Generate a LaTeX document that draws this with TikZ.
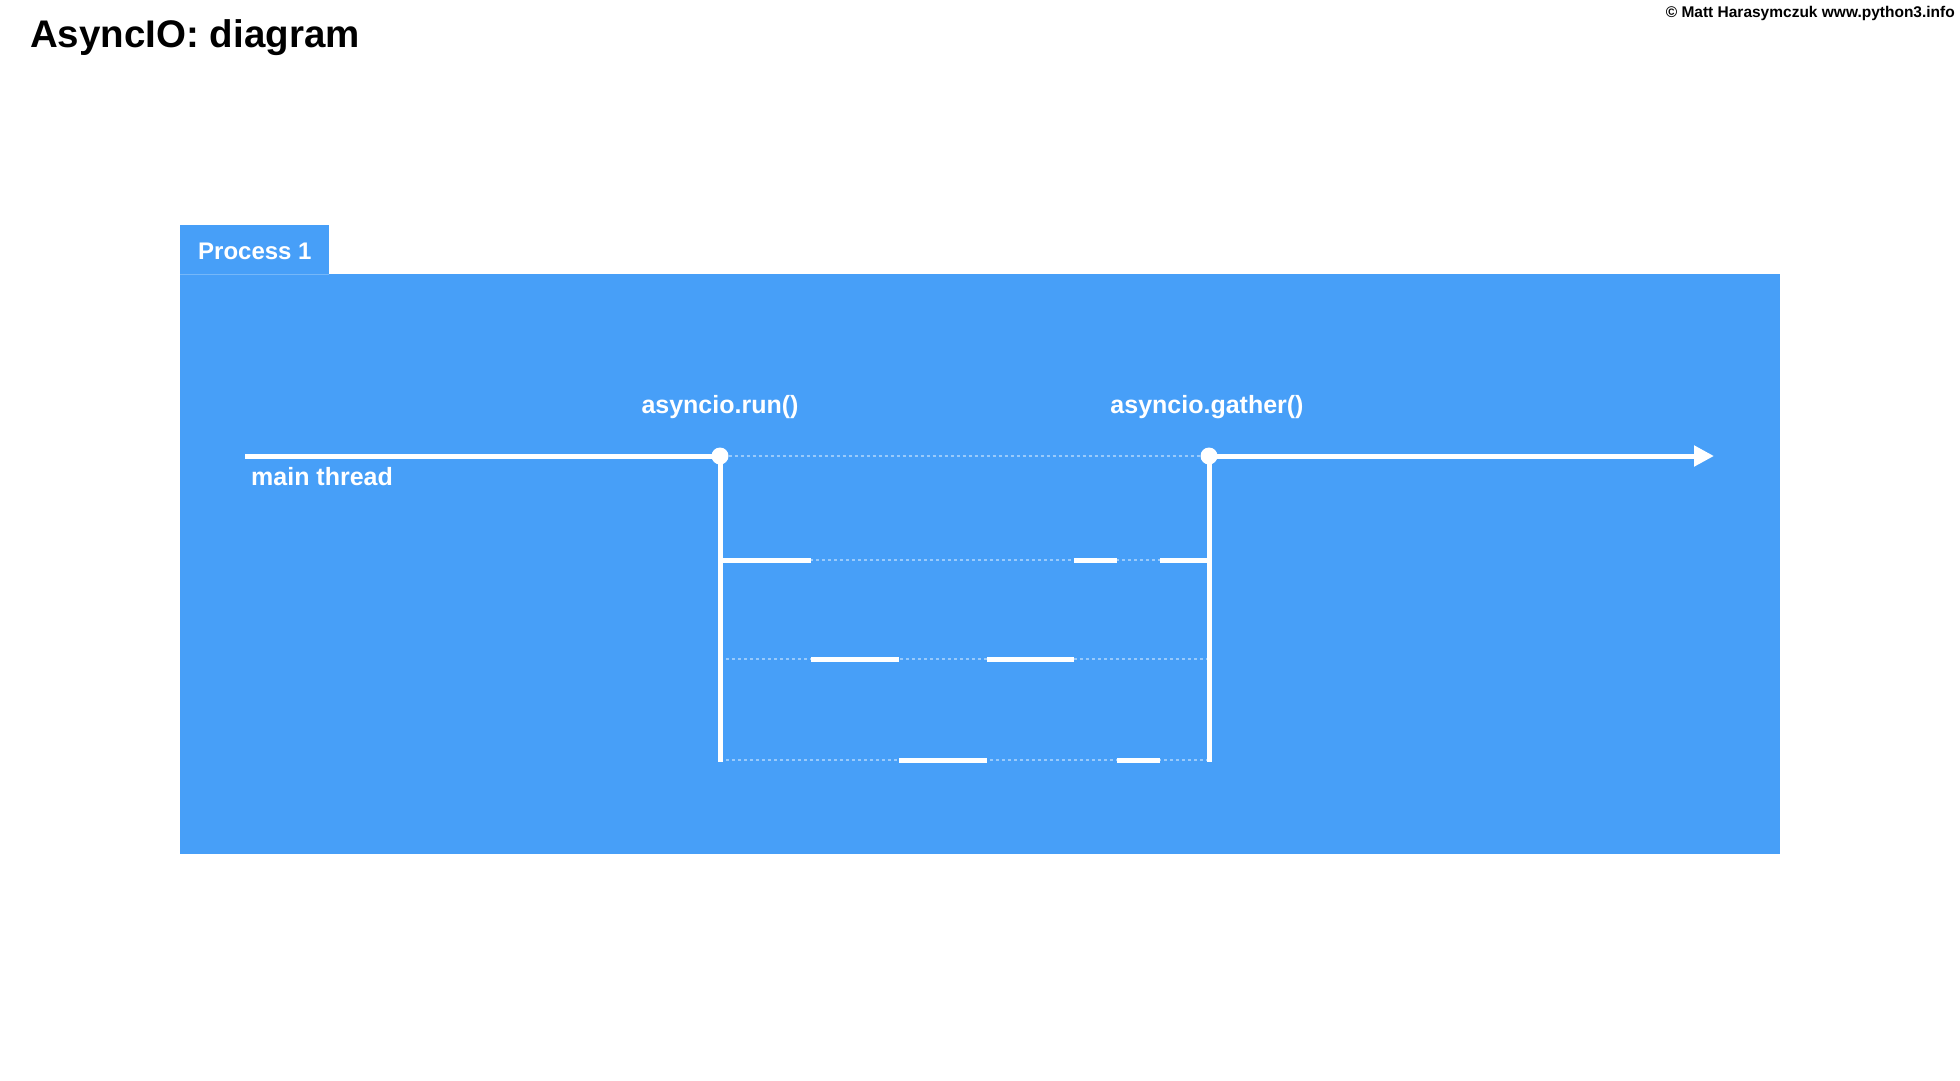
\documentclass[tikz,border=0pt]{standalone}
\usepackage{fontspec}
\setmainfont{Liberation Sans}
\usetikzlibrary{arrows.meta}
\definecolor{procblue}{HTML}{479FF8}
\tikzset{
  thread/.style={draw=white, line width=5pt, line cap=butt},
  idle/.style={draw=white, draw opacity=0.45, line width=1.8pt, dash pattern=on 3pt off 3pt},
  lbl/.style={text=white, font=\fontsize{25}{29}\selectfont\bfseries, inner sep=0pt},
  dotnode/.style={circle, fill=white, minimum size=17pt, inner sep=0pt},
}
\begin{document}
\begin{tikzpicture}[x=1pt, y=-1pt]
\useasboundingbox (0,0) rectangle (1960,1080);
\fill[white] (0,0) rectangle (1960,1080);
% titles
\node[anchor=base west, inner sep=0pt, font=\fontsize{38.5}{44}\selectfont\bfseries] (title) at (30,47) {AsyncIO: diagram};
\node[anchor=base east, inner sep=0pt, font=\fontsize{15.5}{18}\selectfont\bfseries] (copy) at (1955,17) {© Matt Harasymczuk www.python3.info};
% process box
\fill[procblue] (180,225) rectangle (329,275);
\fill[procblue] (180,274) rectangle (1780,854);
\draw[white, draw opacity=0.25, line width=0.8pt] (180,274.5) -- (329,274.5);
\node[lbl, anchor=base west, font=\fontsize{24}{28}\selectfont\bfseries] (proc) at (198,259) {Process 1};
% main thread
\coordinate (start) at (245,456);
\coordinate (end) at (1714,456);
\node[dotnode] (run) at (720,456) {};
\node[dotnode] (gather) at (1209,456) {};
\node[lbl, anchor=base west] (mtl) at (251,485) {main thread};
\node[lbl, anchor=base] (runl) at (720,413) {asyncio.run()};
\node[lbl, anchor=base] (gatherl) at (1207,413) {asyncio.gather()};
% row coordinates
\coordinate (runb) at (720,762);
\coordinate (gatherb) at (1209,762);
\coordinate (l1) at (720,560); \coordinate (r1) at (1209,560);
\coordinate (l2) at (720,659); \coordinate (r2) at (1209,659);
\coordinate (l3) at (720,760); \coordinate (r3) at (1209,760);
% idle dotted lines
\draw[idle] (run.east) -- (gather.west);
\draw[idle] (l1) -- (r1);
\draw[idle] (l2) -- (r2);
\draw[idle] (l3) -- (r3);
% main thread lines
\draw[thread] (start) -- (run.center);
\draw[thread, -{Triangle[length=20pt,width=20pt]}] (gather.center) -- (end);
\draw[thread] (run.center) -- (runb);
\draw[thread] (gather.center) -- (gatherb);
% task 1
\draw[thread] (l1) -- (811,560);
\draw[thread] (1074,560) -- (1117,560);
\draw[thread] (1160,560) -- (r1);
% task 2
\draw[thread] (811,659) -- (899,659);
\draw[thread] (987,659) -- (1074,659);
% task 3
\draw[thread] (899,760) -- (987,760);
\draw[thread] (1117,760) -- (1160,760);
\end{tikzpicture}
\end{document}
